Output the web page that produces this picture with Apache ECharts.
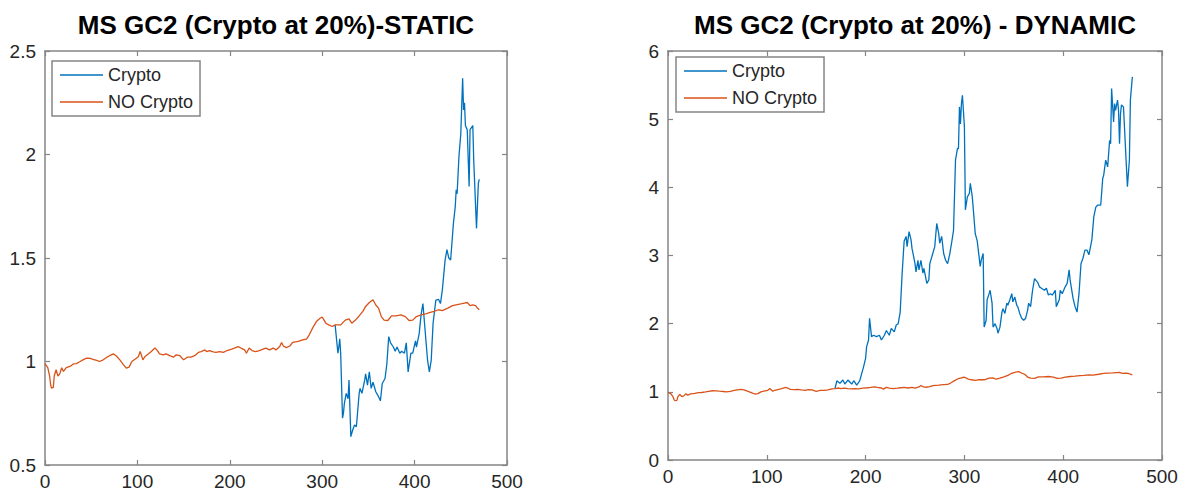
<!DOCTYPE html>
<html>
<head>
<meta charset="utf-8">
<script src="https://cdn.jsdelivr.net/npm/echarts@6/dist/echarts.min.js"></script>
<style>
  html, body { margin: 0; padding: 0; background: #ffffff; }
  #chart { width: 1182px; height: 495px; }
</style>
</head>
<body>
<div id="chart"></div>
<script>
// Portfolio value paths (index = observation number)
const seriesNames = ['Crypto', 'NO Crypto'];
const chartTitles = ['MS GC2 (Crypto at 20%)-STATIC', 'MS GC2 (Crypto at 20%) - DYNAMIC'];

// Shared benchmark path without crypto (identical in both panels)
const noCryptoX = [0, 3, 5, 6, 7, 9, 10, 12, 14, 16, 18, 20, 23, 27, 31, 34, 38, 41, 45, 49,
  52, 56, 59, 63, 67, 70, 74, 77, 81, 85, 88, 91, 94, 97, 101, 103, 106, 108, 112, 115,
  119, 121, 124, 128, 131, 135, 139, 142, 146, 150, 154, 158, 162, 166, 169, 173, 175, 178, 182, 185,
  189, 193, 197, 202, 205, 209, 212, 216, 218, 221, 224, 228, 232, 236, 239, 243, 247, 250, 254, 256,
  258, 261, 265, 268, 274, 279, 283, 286, 290, 294, 298, 300, 302, 304, 307, 311, 314, 317, 320, 325,
  329, 332, 336, 340, 344, 347, 351, 355, 358, 361, 364, 367, 371, 375, 380, 385, 390, 394, 398, 402,
  407, 412, 417, 421, 426, 430, 436, 441, 445, 450, 454, 457, 460, 463, 466, 468, 470];
const noCryptoY = [0.99, 0.97, 0.93, 0.89, 0.871, 0.875, 0.93, 0.96, 0.93, 0.94, 0.97, 0.952, 0.97, 0.976, 0.989, 0.99, 1.0, 1.008, 1.016, 1.015,
  1.01, 1.005, 1.0, 1.008, 1.021, 1.028, 1.037, 1.028, 1.008, 0.984, 0.968, 0.973, 1.0, 1.01, 1.023, 1.048, 1.008, 1.023, 1.037, 1.048,
  1.065, 1.056, 1.037, 1.032, 1.037, 1.028, 1.021, 1.032, 1.028, 1.008, 1.021, 1.021, 1.028, 1.044, 1.048, 1.056, 1.048, 1.053, 1.047, 1.044,
  1.048, 1.044, 1.053, 1.06, 1.065, 1.072, 1.065, 1.056, 1.04, 1.065, 1.053, 1.048, 1.053, 1.06, 1.065, 1.056, 1.065, 1.056, 1.072, 1.092,
  1.075, 1.067, 1.075, 1.092, 1.097, 1.105, 1.108, 1.129, 1.165, 1.195, 1.21, 1.214, 1.2, 1.185, 1.177, 1.169, 1.177, 1.177, 1.177, 1.2,
  1.206, 1.185, 1.2, 1.22, 1.242, 1.266, 1.285, 1.298, 1.273, 1.258, 1.217, 1.2, 1.198, 1.22, 1.22, 1.225, 1.217, 1.198, 1.2, 1.217,
  1.225, 1.23, 1.237, 1.242, 1.25, 1.246, 1.258, 1.27, 1.274, 1.278, 1.282, 1.285, 1.27, 1.274, 1.27, 1.258, 1.25];

// Static allocation: crypto path leaves the benchmark at observation 314
const staticCryptoX = [314, 317, 318, 319, 320, 322, 323, 324, 326, 328, 329, 331, 333, 335, 337, 340, 341, 343, 346, 347,
  349, 351, 353, 355, 358, 361, 363, 365, 368, 370, 372, 374, 377, 379, 381, 384, 386, 389, 391, 393,
  396, 398, 401, 402, 405, 407, 409, 411, 414, 416, 418, 420, 423, 426, 428, 430, 433, 435, 437, 439,
  442, 444, 445, 446, 448, 450, 452, 453, 454, 455, 457, 459, 460, 463, 464, 467, 469, 470];
const staticCryptoY = [1.177, 1.04, 1.07, 1.11, 1.04, 0.726, 0.75, 0.798, 0.846, 0.82, 0.91, 0.637, 0.669, 0.693, 0.685, 0.846, 0.87, 0.846, 0.91, 0.94,
  0.886, 0.95, 0.87, 0.9, 0.854, 0.83, 0.81, 0.894, 0.918, 0.99, 1.12, 1.09, 1.07, 1.05, 1.07, 1.04, 1.05, 1.04, 1.09, 0.95,
  1.04, 1.04, 1.1, 1.07, 1.136, 1.225, 1.28, 1.17, 1.007, 0.95, 1.007, 1.185, 1.297, 1.3, 1.28, 1.345, 1.49, 1.54, 1.5, 1.49,
  1.667, 1.748, 1.83, 1.81, 1.99, 2.1, 2.368, 2.215, 2.25, 2.14, 2.118, 1.845, 2.12, 2.14, 1.97, 1.643, 1.86, 1.88];

// Dynamic allocation: crypto path leaves the benchmark at observation 169
const dynamicCryptoX = [169, 171, 174, 177, 179, 182, 186, 188, 191, 194, 198, 200, 201, 203, 204, 206, 208, 211, 214, 216,
  219, 221, 224, 226, 229, 231, 233, 235, 237, 239, 241, 242, 244, 246, 247, 248, 250, 251, 253, 254,
  256, 258, 259, 262, 264, 265, 268, 270, 272, 274, 275, 277, 279, 281, 283, 285, 287, 289, 291, 293,
  294, 295, 296, 297, 298, 300, 301, 303, 305, 306, 308, 311, 313, 316, 317, 319, 320, 322, 323, 325,
  326, 328, 329, 331, 333, 334, 336, 338, 339, 341, 343, 344, 346, 348, 349, 351, 353, 354, 356, 358,
  360, 362, 364, 365, 367, 369, 371, 374, 376, 378, 381, 383, 385, 387, 389, 392, 393, 396, 397, 399,
  402, 404, 406, 407, 410, 412, 414, 416, 418, 420, 422, 424, 426, 429, 431, 433, 435, 438, 440, 441,
  443, 445, 447, 448, 449, 451, 452, 453, 455, 456, 457, 458, 459, 461, 462, 464, 465, 467, 468, 470];
const dynamicCryptoY = [1.05, 1.163, 1.124, 1.173, 1.114, 1.173, 1.114, 1.163, 1.1, 1.16, 1.37, 1.49, 1.66, 1.76, 2.08, 1.81, 1.83, 1.81, 1.83, 1.76,
  1.83, 1.9, 1.83, 1.93, 1.88, 1.98, 2.0, 2.17, 2.74, 3.21, 3.28, 3.13, 3.35, 3.23, 3.1, 3.03, 2.88, 2.76, 2.93, 2.79,
  2.93, 2.74, 2.81, 2.59, 2.64, 2.88, 3.03, 3.13, 3.47, 3.32, 3.18, 3.28, 3.03, 2.93, 2.88, 3.01, 3.18, 3.37, 4.4, 4.57,
  4.57, 5.18, 4.93, 5.23, 5.35, 4.89, 3.67, 3.86, 3.91, 4.06, 3.86, 3.32, 3.21, 2.84, 2.93, 3.03, 1.95, 2.05, 2.35, 2.44,
  2.49, 2.3, 1.95, 2.0, 1.93, 1.86, 1.95, 2.17, 2.22, 2.15, 2.3, 2.27, 2.35, 2.44, 2.32, 2.39, 2.27, 2.25, 2.15, 2.08,
  2.05, 2.08, 2.2, 2.3, 2.25, 2.49, 2.66, 2.61, 2.54, 2.52, 2.49, 2.52, 2.42, 2.44, 2.42, 2.49, 2.25, 2.35, 2.49, 2.44,
  2.54, 2.59, 2.79, 2.64, 2.37, 2.25, 2.17, 2.44, 2.88, 2.96, 3.08, 3.08, 3.01, 3.23, 3.57, 3.71, 3.74, 3.74, 4.13, 4.18,
  4.4, 4.3, 4.69, 4.64, 5.45, 4.96, 5.23, 5.13, 5.28, 5.13, 4.64, 5.08, 5.21, 5.18, 4.89, 4.3, 4.01, 4.4, 5.28, 5.62];

// Axis ranges
const xRange = { min: 0, max: 500, interval: 100 };
const staticYRange = { min: 0.5, max: 2.5, interval: 0.5 };
const dynamicYRange = { min: 0, max: 6, interval: 1 };

const BLUE = '#0072BD';
const ORANGE = '#D95319';
const AXIS_GREY = '#858585';
const TEXT = '#262626';
const FONT = '"Liberation Sans", Arial, Helvetica, sans-serif';

function pairs(xs, ys) {
  return xs.map((x, i) => [x, ys[i]]);
}

// Boxed axes: a labelled axis plus a mirrored one on the opposite side, ticks pointing inward
function boxAxis(gridIndex, range, pos, labelled) {
  return {
    type: 'value',
    gridIndex: gridIndex,
    position: pos,
    min: range.min,
    max: range.max,
    interval: range.interval,
    axisLine: { show: true, onZero: false, lineStyle: { color: AXIS_GREY, width: 1.5 } },
    axisTick: { show: true, inside: true, length: 5, lineStyle: { color: AXIS_GREY, width: 1.2 } },
    axisLabel: {
      show: labelled,
      showMinLabel: true,
      showMaxLabel: true,
      color: TEXT,
      fontSize: 19,
      fontFamily: FONT,
      margin: (pos === 'left') ? 9 : 7
    },
    splitLine: { show: false }
  };
}

function lineSeries(name, data, axisIndex, color) {
  return {
    name: name,
    type: 'line',
    xAxisIndex: axisIndex,
    yAxisIndex: axisIndex,
    data: data,
    symbol: 'none',
    showSymbol: false,
    smooth: false,
    lineStyle: { color: color, width: 1.3 },
    itemStyle: { color: color },
    animation: false,
    z: name === 'NO Crypto' ? 3 : 2
  };
}

// Boxed legend with plain line swatches
function legendAt(left, top) {
  return {
    orient: 'vertical',
    left: left,
    top: top,
    data: seriesNames.map(n => ({ name: n, icon: 'rect' })),
    itemWidth: 43,
    itemHeight: 1.6,
    itemGap: 7,
    padding: [4, 7, 4, 8],
    borderColor: AXIS_GREY,
    borderWidth: 1.5,
    backgroundColor: '#ffffff',
    selectedMode: false,
    textStyle: { color: TEXT, fontSize: 18, fontFamily: FONT, lineHeight: 20 }
  };
}

const grids = [
  { left: 45, top: 51, width: 462, height: 414 },
  { left: 668, top: 51, width: 494, height: 409 }
];

const chart = echarts.init(document.getElementById('chart'), null, { renderer: 'svg' });

chart.setOption({
  backgroundColor: '#ffffff',
  animation: false,
  grid: grids,
  xAxis: [
    boxAxis(0, xRange, 'bottom', true),
    boxAxis(0, xRange, 'top', false),
    boxAxis(1, xRange, 'bottom', true),
    boxAxis(1, xRange, 'top', false)
  ],
  yAxis: [
    boxAxis(0, staticYRange, 'left', true),
    boxAxis(0, staticYRange, 'right', false),
    boxAxis(1, dynamicYRange, 'left', true),
    boxAxis(1, dynamicYRange, 'right', false)
  ],
  legend: [legendAt(52, 61), legendAt(676, 57)],
  graphic: [
    {
      type: 'text', x: grids[0].left + grids[0].width / 2, y: 12,
      style: { text: chartTitles[0], fill: '#000000', font: 'bold 26px ' + FONT, align: 'center', verticalAlign: 'top' }
    },
    {
      type: 'text', x: grids[1].left + grids[1].width / 2, y: 12,
      style: { text: chartTitles[1], fill: '#000000', font: 'bold 26px ' + FONT, align: 'center', verticalAlign: 'top' }
    }
  ],
  series: [
    lineSeries('Crypto', pairs(staticCryptoX, staticCryptoY), 0, BLUE),
    lineSeries('NO Crypto', pairs(noCryptoX, noCryptoY), 0, ORANGE),
    lineSeries('Crypto', pairs(dynamicCryptoX, dynamicCryptoY), 2, BLUE),
    lineSeries('NO Crypto', pairs(noCryptoX, noCryptoY), 2, ORANGE)
  ]
});
</script>
</body>
</html>
